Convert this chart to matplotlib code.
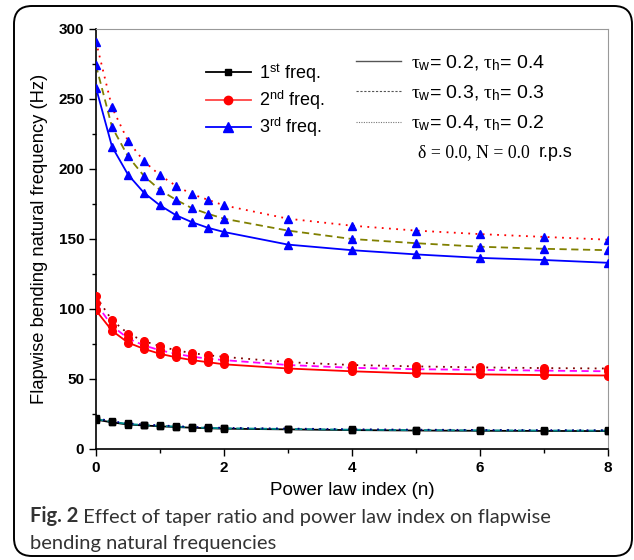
import matplotlib
matplotlib.use("Agg")
import matplotlib.pyplot as plt
from matplotlib.patches import FancyBboxPatch
from matplotlib.transforms import IdentityTransform
from matplotlib.lines import Line2D
from matplotlib.ticker import MultipleLocator

plt.rcParams['font.family'] = ['Liberation Sans', 'DejaVu Sans']
plt.rcParams['mathtext.fontset'] = 'custom'
plt.rcParams['mathtext.rm'] = 'Liberation Sans'
plt.rcParams['mathtext.it'] = 'Liberation Serif'
plt.rcParams['mathtext.sf'] = 'Liberation Sans'

# ---- data ----
n = [0, 0.25, 0.5, 0.75, 1, 1.25, 1.5, 1.75, 2, 3, 4, 5, 6, 7, 8]

f1_a = [21.0, 19.0, 17.5, 16.8, 16.2, 15.7, 15.2, 14.8, 14.5, 14.0, 13.5, 13.2, 13.0, 12.9, 12.8]
f1_b = [21.5, 19.4, 17.9, 17.1, 16.5, 16.0, 15.5, 15.1, 14.8, 14.3, 13.8, 13.5, 13.3, 13.2, 13.1]
f1_c = [22.0, 19.8, 18.3, 17.5, 16.9, 16.3, 15.8, 15.4, 15.1, 14.6, 14.1, 13.8, 13.6, 13.5, 13.4]

f2_a = [99, 84.5, 76, 71.5, 68, 65.5, 63.5, 62, 60.5, 57.5, 55.5, 54, 53.3, 52.8, 52.5]
f2_b = [104, 88, 79, 74, 70.5, 68, 66, 64.5, 63.5, 60, 58, 57, 56.5, 56, 55.5]
f2_c = [109, 92, 82.5, 77, 73.5, 70.5, 68.5, 67, 65.8, 62, 60, 59, 58.3, 57.8, 57.5]

f3_a = [258, 216, 196, 183, 174, 167, 162, 158, 155, 146, 142, 139, 136.5, 135, 133]
f3_b = [274, 230, 209, 195, 185, 178, 172, 168, 164.5, 156, 150, 147, 144.5, 143, 142]
f3_c = [291, 244, 220, 205.5, 195.5, 188, 182, 178, 174, 164.5, 159.5, 156, 153.5, 151.5, 149.5]

freq_labels = ['1$^{\\rm st}$ freq.', '2$^{\\rm nd}$ freq.', '3$^{\\rm rd}$ freq.']
taper_labels = ['$\\tau_{\\rm w}$= 0.2, $\\tau_{\\rm h}$= 0.4',
                '$\\tau_{\\rm w}$= 0.3, $\\tau_{\\rm h}$= 0.3',
                '$\\tau_{\\rm w}$= 0.4, $\\tau_{\\rm h}$= 0.2']

fig = plt.figure(figsize=(6.34, 5.6), dpi=100)
ax = fig.add_axes([96/634, 1-449/560, (608-96)/634, (449-29)/560])

dot = (0, (1, 3))
dash = (0, (4, 2.5))

series = [
    (f1_a, 'black', '-', 's', 'black', 5),
    (f1_b, '#008b8b', dash, 's', 'black', 5),
    (f1_c, '#000080', dot, 's', 'black', 5),
    (f2_a, '#ff0000', '-', 'o', '#ff0000', 5.5),
    (f2_b, '#ff00ff', dash, 'o', '#ff0000', 5.5),
    (f2_c, '#800000', dot, 'o', '#ff0000', 5.5),
    (f3_a, '#0000ff', '-', '^', '#0000ff', 6.2),
    (f3_b, '#808000', dash, '^', '#0000ff', 6.2),
    (f3_c, '#ff0000', dot, '^', '#0000ff', 6.2),
]
for y, c, ls, m, mc, ms in series:
    ax.plot(n, y, color=c, linestyle=ls, linewidth=1.3, zorder=2)
    ax.plot(n, y, linestyle='none', marker=m, markersize=ms, color=mc, zorder=3)

ax.set_xlim(0, 8)
ax.set_ylim(0, 300)
ax.xaxis.set_major_locator(MultipleLocator(2))
ax.xaxis.set_minor_locator(MultipleLocator(1))
ax.yaxis.set_major_locator(MultipleLocator(50))
ax.yaxis.set_minor_locator(MultipleLocator(25))
ax.tick_params(which='both', direction='out', top=False, right=False, width=1)
ax.tick_params(which='major', length=5, labelsize=11)
ax.tick_params(which='minor', length=3)
for lbl in ax.get_xticklabels() + ax.get_yticklabels():
    lbl.set_fontweight('bold')
ax.spines['top'].set_color('#999999')
ax.spines['right'].set_color('#999999')
ax.spines['left'].set_linewidth(1.2)
ax.spines['bottom'].set_linewidth(1.2)

ax.set_xlabel('Power law index (n)', fontsize=13.5, labelpad=5)
ax.set_ylabel('Flapwise bending natural frequency (Hz)', fontsize=13.2, labelpad=8)

# legend 1
h1 = [Line2D([], [], color='black', marker='s', markersize=5, lw=1.3),
      Line2D([], [], color='#ff4444', marker='o', markerfacecolor='#ff0000',
             markeredgecolor='#ff0000', markersize=6, lw=1.3),
      Line2D([], [], color='#0000ff', marker='^', markersize=7, lw=1.3)]
leg1 = ax.legend(h1, freq_labels, loc='upper left', bbox_to_anchor=(0.197, 0.943),
                 frameon=False, fontsize=13, handlelength=2.5, handletextpad=0.45,
                 labelspacing=0.2, borderpad=0)
ax.add_artist(leg1)

# legend 2
h2 = [Line2D([], [], color='#555555', ls='-', lw=1),
      Line2D([], [], color='#555555', ls=(0, (2, 1.5)), lw=0.8),
      Line2D([], [], color='#777777', ls=(0, (1, 1.2)), lw=0.8)]
leg2 = ax.legend(h2, taper_labels, loc='upper left', bbox_to_anchor=(0.489, 0.965),
                 frameon=False, fontsize=14, handlelength=2.3, handletextpad=0.5,
                 labelspacing=0.55, borderpad=0)

ax.text(0.628, 0.705, 'δ = 0.0, N = 0.0', transform=ax.transAxes,
        fontsize=12.8, family='Liberation Serif', va='center', ha='left')
ax.text(0.864, 0.705, 'r.p.s', transform=ax.transAxes,
        fontsize=13, va='center', ha='left')

# caption
t1 = fig.text(30/634, 1-526/560, 'Fig. 2', fontsize=14.5, fontweight='bold',
              family='Lato', color='#333333', va='bottom')
ax.annotate(' Effect of taper ratio and power law index on flapwise',
            xy=(1, 0), xycoords=t1, fontsize=14.5, family='Lato',
            color='#333333', va='bottom', ha='left', annotation_clip=False)
fig.text(30/634, 1-552/560, 'bending natural frequencies', fontsize=14.5,
         family='Lato', color='#333333', va='bottom')

# rounded border
box = FancyBboxPatch((14, 4), 618, 550, boxstyle='round,pad=0,rounding_size=18',
                     transform=IdentityTransform(), fill=False, edgecolor='black',
                     linewidth=1.4)
fig.patches.append(box)

fig.savefig('out.png', dpi=100)
